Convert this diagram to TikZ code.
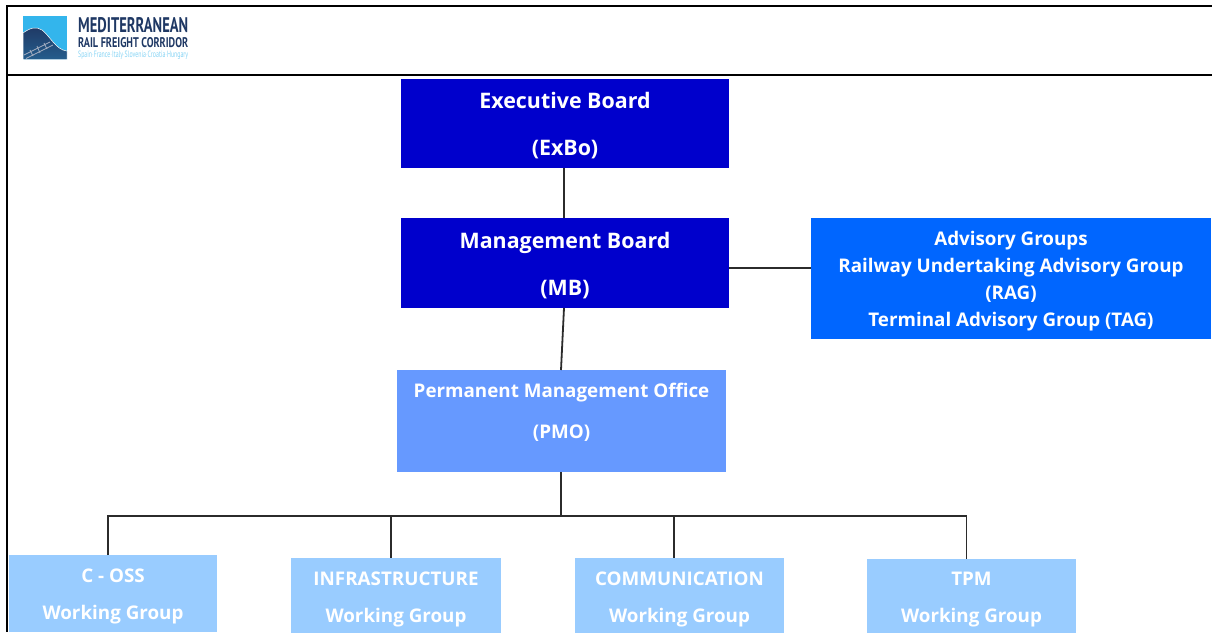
\documentclass[tikz,border=0pt]{standalone}
\usepackage{fontspec}
\usepackage{graphicx}
\setmainfont{Open Sans}
\newfontfamily\logofont{PT Sans}
\definecolor{navyb}{HTML}{0000CC}
\definecolor{midb}{HTML}{0066FF}
\definecolor{softb}{HTML}{6699FF}
\definecolor{paleb}{HTML}{99CCFF}
\definecolor{linec}{HTML}{2B2B2B}
\definecolor{logod}{HTML}{1F3864}
\definecolor{logos}{HTML}{33B5EC}
\newcommand{\dn}[1]{\raisebox{-2.5pt}[\height][\depth]{#1}}
\newcommand{\up}[1]{\raisebox{8.5pt}[\height][\depth]{#1}}
\tikzset{
  box/.style={inner sep=0pt,outer sep=0pt,align=center,text=white},
  big/.style={font=\bfseries\fontsize{21.4}{47}\selectfont},
  conn/.style={draw=linec,line width=1.8pt},
  frame/.style={draw=black,line width=2.4pt},
}
\begin{document}
\begin{tikzpicture}[x=1pt,y=-1pt]
\useasboundingbox (0,0) rectangle (1212,632);
\begin{scope}
\clip (0,0) rectangle (1212,632);
% frame
\draw[frame] (1212,6) -- (7,6) -- (7,632);
\draw[frame] (7,75) -- (1212,75);
% logo
\fill[logos] (23,16) rectangle (67,59.5);
\shade[bottom color=logod!70!logos,top color=logod,draw=white,line width=0.5pt] (23,59.5) -- (23,33) .. controls (30,28) and (36,26) .. (42,30) .. controls (50,36) and (56,50) .. (67,51) -- (67,59.5) -- cycle;
\draw[white!60!logod,line width=0.7pt] (24,55) -- (50,42) (26,58.5) -- (53,45) (30,50) -- (33,56) (37,46) -- (40,53) (44,43) -- (47,49);
\node[inner sep=0pt,text=logod,anchor=west] (logoA) at (78,25) {\resizebox{110pt}{15pt}{\logofont\bfseries MEDITERRANEAN}};
\node[inner sep=0pt,text=logod,anchor=west] (logoB) at (78,43) {\resizebox{110pt}{10pt}{\logofont\bfseries RAIL FREIGHT CORRIDOR}};
\node[inner sep=0pt,text=logos!60,anchor=west] (logoC) at (78,55.5) {\resizebox{110pt}{6.5pt}{\logofont Spain$\cdot$France$\cdot$Italy$\cdot$Slovenia$\cdot$Croatia$\cdot$Hungary}};
% boxes
\node[box,minimum width=328pt,fill=navyb,minimum height=89pt,big] (exbo) at (565,123.5) {\dn{Executive Board}\\\dn{(ExBo)}};
\node[box,minimum width=328pt,fill=navyb,minimum height=90pt,big] (mb) at (565,263) {\dn{Management Board}\\\dn{(MB)}};
\node[box,minimum width=400pt,fill=midb,minimum height=121pt,font=\bfseries\fontsize{18.8}{27}\selectfont] (adv) at (1011,278.5) {\dn{Advisory Groups}\\\dn{Railway Undertaking Advisory Group}\\\dn{(RAG)}\\\dn{Terminal Advisory Group (TAG)}};
\node[box,minimum width=329pt,fill=softb,minimum height=102pt,font=\bfseries\fontsize{18.8}{41}\selectfont] (pmo) at (561.5,421) {\up{Permanent Management Office}\\\up{(PMO)}};
\node[box,minimum width=208pt,fill=paleb,minimum height=77pt,font=\bfseries\fontsize{18.8}{37}\selectfont] (coss) at (113,593.5) {\dn{C - OSS}\\\dn{Working Group}};
\node[box,minimum width=210pt,fill=paleb,minimum height=77pt,font=\bfseries\fontsize{18.8}{37}\selectfont] (infra) at (396,596.5) {\dn{INFRASTRUCTURE}\\\dn{Working Group}};
\node[box,minimum width=209pt,fill=paleb,minimum height=77pt,font=\bfseries\fontsize{18.8}{37}\selectfont] (comm) at (679.5,596.5) {\dn{COMMUNICATION}\\\dn{Working Group}};
\node[box,minimum width=209pt,fill=paleb,minimum height=77pt,font=\bfseries\fontsize{18.8}{37}\selectfont] (tpm) at (971.5,597.5) {\dn{TPM}\\\dn{Working Group}};
% connectors
\coordinate (busL) at (108,516);
\coordinate (busM) at (561,516);
\coordinate (busR) at (966.5,516);
\draw[conn] (exbo.south -| 564,0) -- (mb.north -| 564,0);
\draw[conn] (mb.south -| 564,0) -- (pmo.north -| 561,0);
\draw[conn] (mb.east |- 0,268) -- (adv.west |- 0,268);
\draw[conn] (pmo.south -| 561,0) -- (busM);
\draw[conn] (coss.north -| 108,0) -- (busL) -- (busR) -- (tpm.north -| 966.5,0);
\draw[conn] (391,516) -- (infra.north -| 391,0);
\draw[conn] (674,516) -- (comm.north -| 674,0);
\end{scope}
\end{tikzpicture}
\end{document}
